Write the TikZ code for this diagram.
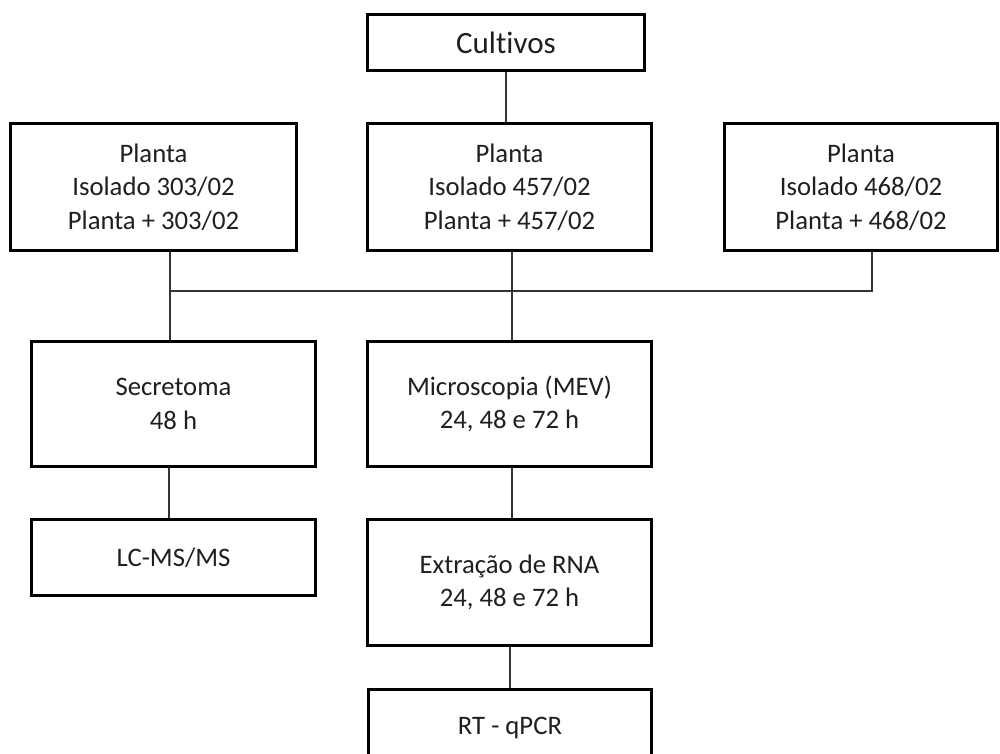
\documentclass[tikz,border=0pt]{standalone}
\usepackage{fontspec}
\setmainfont{Carlito}[RawFeature={-liga}]
\begin{document}
\begin{tikzpicture}[x=1pt,y=-1pt,
  box/.style={draw=black, line width=3pt, align=center, inner sep=0pt,
    text=black!88, font=\fontsize{26.7}{33.5}\selectfont},
  conn/.style={draw=black!80, line width=1.2pt}]
\fill[white] (0,0) rectangle (1000,754);
\useasboundingbox (0,0) rectangle (1000,754);
% boxes
\node[box, minimum width=277pt, minimum height=56pt, font=\fontsize{31}{36}\selectfont] (cult) at (506,42.5) {Cultivos};
\node[box, minimum width=286pt, minimum height=127pt] (pl1) at (153.5,187) {Planta\\Isolado 303/02\\Planta + 303/02};
\node[box, minimum width=284pt, minimum height=127pt] (pl2) at (509.5,187) {Planta\\Isolado 457/02\\Planta + 457/02};
\node[box, minimum width=273pt, minimum height=127pt] (pl3) at (861,187) {Planta\\Isolado 468/02\\Planta + 468/02};
\node[box, minimum width=284pt, minimum height=125pt] (sec) at (173.5,404) {Secretoma\\48 h};
\node[box, minimum width=284pt, minimum height=76pt] (lc) at (173.5,557.5) {LC-MS/MS};
\node[box, minimum width=284pt, minimum height=125pt] (mic) at (509.5,404) {Microscopia (MEV)\\24, 48 e 72 h};
\node[box, minimum width=284pt, minimum height=126pt] (ext) at (509.5,582.5) {Extração de RNA\\24, 48 e 72 h};
\node[box, minimum width=283pt, minimum height=76pt] (rt) at (510,727.5) {RT - qPCR};
% junctions
\coordinate (jL) at (170,291);
\coordinate (jR) at (872,291);
\coordinate (xc) at (506,0);
\coordinate (xm) at (512,0);
\coordinate (xs) at (169,0);
\coordinate (xe) at (510,0);
% connectors
\draw[conn] (cult.south -| xc) -- (pl2.north -| xc);
\draw[conn] (pl1.south -| jL) -- (jL) -- (sec.north -| jL);
\draw[conn] (jL) -- (jR) -- (pl3.south -| jR);
\draw[conn] (pl2.south -| xm) -- (mic.north -| xm);
\draw[conn] (sec.south -| xs) -- (lc.north -| xs);
\draw[conn] (mic.south -| xm) -- (ext.north -| xm);
\draw[conn] (ext.south -| xe) -- (rt.north -| xe);
\end{tikzpicture}
\end{document}
